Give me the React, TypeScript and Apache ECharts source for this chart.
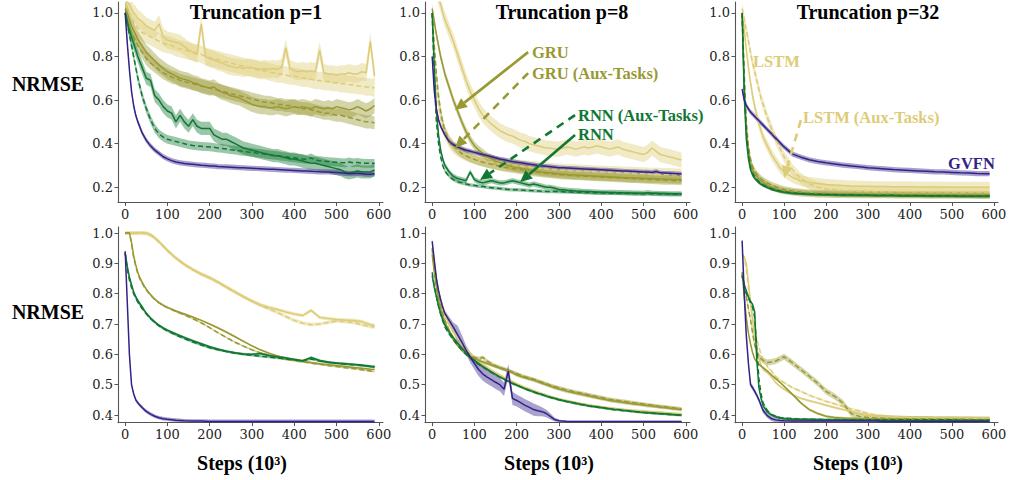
import { useEffect, useRef } from "react";
import * as echarts from "echarts";

// Training steps (in thousands) at which each curve is sampled
const STEPS_FINE = [0, 5, 10, 15, 20, 25, 30, 40, 50, 60, 70, 80, 90, 100, 110, 120, 130, 140, 150, 160, 170, 180, 190, 200, 210, 220, 230, 240, 250, 260, 270, 280, 290, 300, 310, 320, 330, 340, 350, 360, 370, 380, 390, 400, 410, 420, 430, 440, 450, 460, 470, 480, 490, 500, 510, 520, 530, 540, 550, 560, 570, 580, 590];
const STEPS_COARSE = [0, 5, 10, 15, 20, 25, 30, 35, 40, 45, 50, 60, 70, 80, 90, 100, 120, 140, 160, 180, 200, 220, 240, 260, 280, 300, 320, 340, 360, 380, 400, 420, 440, 460, 480, 500, 520, 540, 560, 580, 590];

const X_TICKS = [0, 100, 200, 300, 400, 500, 600];
const Y_TICKS_TOP = [0.2, 0.4, 0.6, 0.8, 1.0];
const Y_TICKS_BOTTOM = [0.4, 0.5, 0.6, 0.7, 0.8, 0.9, 1.0];
const TITLES = ["Truncation p=1", "Truncation p=8", "Truncation p=32"];

const COLORS = { GVFN: "#332288", RNN: "#117733", GRU: "#999933", LSTM: "#DDCC77" };

// ---- Row 1, p=1 ----
const P1_GVFN = [1.0, 0.86, 0.74, 0.64, 0.575, 0.53, 0.5,
  0.45, 0.415, 0.39, 0.37, 0.355, 0.34, 0.33, 0.322, 0.316, 0.312,
  0.309, 0.307, 0.305, 0.303, 0.301, 0.3, 0.298, 0.297, 0.295, 0.294,
  0.293, 0.292, 0.291, 0.29, 0.289, 0.288, 0.287, 0.286, 0.285, 0.284,
  0.283, 0.282, 0.281, 0.28, 0.279, 0.278, 0.277, 0.276, 0.275, 0.274,
  0.273, 0.272, 0.271, 0.27, 0.27, 0.269, 0.268, 0.266, 0.264, 0.262,
  0.263, 0.264, 0.262, 0.26, 0.26, 0.262];
const P1_RNN = [1.0, 0.96, 0.92, 0.89, 0.86, 0.83, 0.8,
  0.75, 0.7, 0.69, 0.62, 0.6, 0.57, 0.55, 0.54, 0.5, 0.53,
  0.5, 0.48, 0.51, 0.48, 0.47, 0.47, 0.47, 0.44, 0.43, 0.42,
  0.42, 0.41, 0.4, 0.39, 0.38, 0.375, 0.37, 0.365, 0.36, 0.355,
  0.35, 0.345, 0.345, 0.34, 0.335, 0.33, 0.33, 0.325, 0.32, 0.315,
  0.31, 0.31, 0.305, 0.3, 0.295, 0.29, 0.285, 0.28, 0.27, 0.265,
  0.27, 0.275, 0.27, 0.27, 0.27, 0.28];
const P1_RNN_AUX = [1.0, 0.95, 0.9, 0.85, 0.8, 0.75, 0.7,
  0.62, 0.56, 0.51, 0.47, 0.445, 0.43, 0.42, 0.415, 0.41, 0.405,
  0.4, 0.395, 0.392, 0.39, 0.388, 0.386, 0.385, 0.383, 0.38, 0.378,
  0.375, 0.372, 0.37, 0.367, 0.365, 0.362, 0.36, 0.357, 0.355, 0.352,
  0.35, 0.347, 0.345, 0.342, 0.34, 0.337, 0.335, 0.332, 0.33, 0.328,
  0.335, 0.325, 0.322, 0.32, 0.318, 0.316, 0.315, 0.313, 0.312, 0.316,
  0.312, 0.314, 0.311, 0.31, 0.31, 0.31];
const P1_GRU = [1.02, 1.0, 0.97, 0.94, 0.92, 0.9, 0.88,
  0.85, 0.82, 0.8, 0.78, 0.76, 0.745, 0.73, 0.72, 0.71, 0.7,
  0.695, 0.69, 0.68, 0.675, 0.665, 0.66, 0.655, 0.66, 0.645, 0.635,
  0.63, 0.62, 0.615, 0.61, 0.6, 0.59, 0.58, 0.575, 0.57, 0.57,
  0.565, 0.565, 0.57, 0.565, 0.56, 0.565, 0.57, 0.565, 0.57, 0.565,
  0.56, 0.57, 0.565, 0.56, 0.565, 0.56, 0.57, 0.565, 0.56, 0.555,
  0.56, 0.57, 0.56, 0.55, 0.56, 0.575];
const P1_GRU_AUX = [1.0, 0.97, 0.94, 0.91, 0.89, 0.87, 0.85,
  0.82, 0.79, 0.77, 0.755, 0.74, 0.725, 0.715, 0.705, 0.7, 0.69,
  0.685, 0.68, 0.675, 0.67, 0.665, 0.66, 0.655, 0.65, 0.645, 0.64,
  0.635, 0.63, 0.625, 0.62, 0.615, 0.61, 0.605, 0.6, 0.595, 0.59,
  0.59, 0.585, 0.58, 0.58, 0.575, 0.575, 0.57, 0.565, 0.56, 0.56,
  0.555, 0.55, 0.545, 0.54, 0.54, 0.535, 0.53, 0.53, 0.525, 0.52,
  0.515, 0.51, 0.505, 0.5, 0.5, 0.495];
const P1_LSTM = [1.06, 1.05, 1.04, 1.02, 1.0, 0.99, 0.975,
  0.96, 0.94, 0.93, 0.92, 0.95, 0.89, 0.875, 0.87, 0.865, 0.86,
  0.845, 0.83, 0.82, 0.81, 0.95, 0.8, 0.79, 0.785, 0.775, 0.77,
  0.76, 0.755, 0.75, 0.75, 0.745, 0.75, 0.75, 0.745, 0.74, 0.745,
  0.74, 0.745, 0.74, 0.75, 0.84, 0.745, 0.735, 0.73, 0.735, 0.73,
  0.735, 0.73, 0.83, 0.725, 0.72, 0.72, 0.715, 0.72, 0.72, 0.725,
  0.72, 0.72, 0.73, 0.725, 0.87, 0.71];
const P1_LSTM_AUX = [1.04, 1.02, 1.0, 0.98, 0.96, 0.945, 0.93,
  0.91, 0.9, 0.89, 0.88, 0.87, 0.86, 0.855, 0.85, 0.84, 0.835,
  0.83, 0.825, 0.82, 0.815, 0.81, 0.8, 0.795, 0.79, 0.785, 0.78,
  0.775, 0.77, 0.765, 0.76, 0.755, 0.75, 0.745, 0.74, 0.735, 0.735,
  0.73, 0.725, 0.72, 0.72, 0.715, 0.71, 0.71, 0.705, 0.7, 0.7,
  0.695, 0.69, 0.69, 0.685, 0.685, 0.68, 0.68, 0.675, 0.675, 0.67,
  0.67, 0.665, 0.665, 0.66, 0.66, 0.655];

// ---- Row 1, p=8 ----
const P2_GVFN = [0.8, 0.64, 0.56, 0.51, 0.48, 0.46, 0.44,
  0.41, 0.395, 0.385, 0.377, 0.37, 0.365, 0.36, 0.355, 0.35, 0.345,
  0.34, 0.335, 0.33, 0.326, 0.322, 0.318, 0.315, 0.312, 0.309, 0.306,
  0.303, 0.3, 0.298, 0.296, 0.294, 0.292, 0.29, 0.289, 0.288, 0.287,
  0.286, 0.285, 0.284, 0.283, 0.282, 0.281, 0.28, 0.279, 0.278, 0.277,
  0.276, 0.275, 0.274, 0.273, 0.272, 0.271, 0.27, 0.27, 0.268, 0.272,
  0.266, 0.265, 0.264, 0.263, 0.262, 0.261];
const P2_RNN = [1.0, 0.75, 0.55, 0.44, 0.37, 0.33, 0.3,
  0.27, 0.25, 0.24, 0.235, 0.23, 0.27, 0.235, 0.225, 0.22, 0.225,
  0.23, 0.225, 0.22, 0.22, 0.225, 0.23, 0.225, 0.22, 0.215, 0.21,
  0.215, 0.21, 0.205, 0.2, 0.2, 0.195, 0.19, 0.188, 0.186, 0.185,
  0.183, 0.182, 0.18, 0.18, 0.179, 0.178, 0.177, 0.177, 0.176, 0.176,
  0.175, 0.175, 0.174, 0.174, 0.173, 0.173, 0.172, 0.175, 0.172, 0.172,
  0.171, 0.171, 0.17, 0.17, 0.17, 0.17];
const P2_RNN_AUX = [1.0, 0.7, 0.5, 0.4, 0.34, 0.3, 0.275,
  0.25, 0.235, 0.225, 0.22, 0.215, 0.21, 0.208, 0.205, 0.203, 0.2,
  0.198, 0.196, 0.194, 0.192, 0.19, 0.189, 0.188, 0.187, 0.186, 0.185,
  0.184, 0.183, 0.182, 0.181, 0.18, 0.18, 0.179, 0.179, 0.178, 0.178,
  0.177, 0.177, 0.176, 0.176, 0.175, 0.175, 0.174, 0.174, 0.173, 0.173,
  0.172, 0.172, 0.172, 0.171, 0.171, 0.171, 0.17, 0.17, 0.17, 0.17,
  0.169, 0.169, 0.169, 0.168, 0.168, 0.168];
const P2_GRU = [1.02, 0.96, 0.9, 0.85, 0.8, 0.76, 0.72,
  0.66, 0.6, 0.55, 0.5, 0.455, 0.42, 0.39, 0.37, 0.355, 0.34,
  0.33, 0.32, 0.313, 0.306, 0.3, 0.295, 0.29, 0.287, 0.284, 0.28,
  0.277, 0.274, 0.27, 0.268, 0.266, 0.264, 0.262, 0.26, 0.258, 0.257,
  0.256, 0.255, 0.254, 0.253, 0.252, 0.251, 0.25, 0.249, 0.248, 0.247,
  0.246, 0.245, 0.244, 0.243, 0.242, 0.242, 0.241, 0.24, 0.24, 0.239,
  0.238, 0.238, 0.237, 0.236, 0.236, 0.235];
const P2_GRU_AUX = [1.0, 0.85, 0.72, 0.62, 0.55, 0.5, 0.46,
  0.415, 0.39, 0.37, 0.355, 0.345, 0.335, 0.328, 0.32, 0.315, 0.31,
  0.305, 0.3, 0.296, 0.292, 0.289, 0.286, 0.283, 0.28, 0.277, 0.274,
  0.271, 0.268, 0.266, 0.264, 0.262, 0.26, 0.258, 0.256, 0.255, 0.254,
  0.253, 0.252, 0.251, 0.25, 0.249, 0.248, 0.247, 0.246, 0.245, 0.244,
  0.243, 0.242, 0.241, 0.24, 0.239, 0.238, 0.237, 0.236, 0.235, 0.234,
  0.233, 0.232, 0.232, 0.231, 0.23, 0.23];
const P2_LSTM = [1.15, 1.12, 1.1, 1.07, 1.04, 1.0, 0.97,
  0.92, 0.87, 0.81, 0.75, 0.69, 0.64, 0.6, 0.56, 0.53, 0.51,
  0.49, 0.475, 0.46, 0.45, 0.44, 0.435, 0.425, 0.415, 0.41, 0.4,
  0.395, 0.39, 0.385, 0.38, 0.38, 0.375, 0.375, 0.38, 0.385, 0.38,
  0.375, 0.38, 0.385, 0.38, 0.385, 0.39, 0.385, 0.38, 0.375, 0.38,
  0.385, 0.375, 0.37, 0.365, 0.36, 0.355, 0.35, 0.36, 0.38, 0.365,
  0.35, 0.345, 0.34, 0.335, 0.33, 0.325];
const P2_LSTM_AUX = [1.0, 0.82, 0.68, 0.58, 0.52, 0.48, 0.45,
  0.41, 0.385, 0.37, 0.36, 0.35, 0.342, 0.335, 0.33, 0.325, 0.32,
  0.316, 0.312, 0.308, 0.305, 0.302, 0.3, 0.298, 0.296, 0.294, 0.292,
  0.29, 0.288, 0.286, 0.284, 0.282, 0.28, 0.279, 0.278, 0.277, 0.276,
  0.275, 0.274, 0.273, 0.272, 0.271, 0.27, 0.27, 0.269, 0.268, 0.267,
  0.266, 0.265, 0.265, 0.264, 0.263, 0.262, 0.262, 0.261, 0.26, 0.26,
  0.259, 0.258, 0.258, 0.257, 0.256, 0.256];

// ---- Row 1, p=32 ----
const P3_GVFN = [0.65, 0.6, 0.575, 0.56, 0.545, 0.535, 0.525, 0.515, 0.505, 0.495, 0.485,
  0.465, 0.445, 0.425, 0.405, 0.385,
  0.352, 0.338, 0.326, 0.318, 0.312, 0.307, 0.302, 0.298, 0.294, 0.29,
  0.287, 0.284, 0.281, 0.279, 0.277, 0.275, 0.273, 0.271, 0.27, 0.268,
  0.266, 0.265, 0.263, 0.262, 0.262];
const P3_RNN = [1.0, 0.62, 0.42, 0.33, 0.28, 0.255, 0.24, 0.23, 0.22, 0.213, 0.207,
  0.198, 0.19, 0.185, 0.18, 0.177,
  0.172, 0.17, 0.168, 0.167, 0.166, 0.165, 0.164, 0.164, 0.163, 0.163,
  0.162, 0.162, 0.162, 0.161, 0.161, 0.161, 0.16, 0.16, 0.16, 0.16,
  0.159, 0.159, 0.159, 0.159, 0.159];
const P3_RNN_AUX = [1.0, 0.66, 0.45, 0.35, 0.29, 0.265, 0.248, 0.236, 0.226, 0.218, 0.212,
  0.202, 0.194, 0.188, 0.183, 0.179,
  0.174, 0.171, 0.169, 0.168, 0.167, 0.166, 0.165, 0.165, 0.164, 0.164,
  0.163, 0.163, 0.163, 0.162, 0.162, 0.162, 0.161, 0.161, 0.161, 0.161,
  0.16, 0.16, 0.16, 0.16, 0.16];
const P3_GRU = [1.0, 0.68, 0.47, 0.37, 0.31, 0.28, 0.26, 0.248, 0.238, 0.23, 0.222,
  0.21, 0.2, 0.193, 0.187, 0.183,
  0.177, 0.173, 0.17, 0.168, 0.167, 0.166, 0.166, 0.165, 0.165, 0.164,
  0.164, 0.164, 0.163, 0.163, 0.163, 0.163, 0.162, 0.162, 0.162, 0.162,
  0.162, 0.162, 0.161, 0.161, 0.161];
const P3_GRU_AUX = [1.0, 0.72, 0.5, 0.39, 0.33, 0.295, 0.275, 0.26, 0.25, 0.24, 0.232,
  0.22, 0.21, 0.202, 0.196, 0.19,
  0.183, 0.178, 0.175, 0.173, 0.172, 0.171, 0.17, 0.17, 0.169, 0.169,
  0.168, 0.168, 0.168, 0.167, 0.167, 0.167, 0.167, 0.166, 0.166, 0.166,
  0.166, 0.166, 0.165, 0.165, 0.165];
const P3_LSTM = [1.0, 0.92, 0.83, 0.75, 0.68, 0.62, 0.57, 0.53, 0.49, 0.46, 0.43,
  0.39, 0.35, 0.32, 0.29, 0.27,
  0.245, 0.23, 0.222, 0.217, 0.213, 0.21, 0.208, 0.206, 0.205, 0.204,
  0.203, 0.203, 0.202, 0.202, 0.202, 0.201, 0.201, 0.201, 0.2, 0.2,
  0.2, 0.2, 0.2, 0.2, 0.2];
const P3_LSTM_AUX = [1.02, 0.97, 0.92, 0.87, 0.82, 0.77, 0.73, 0.69, 0.65, 0.61, 0.58,
  0.52, 0.47, 0.42, 0.38, 0.34,
  0.28, 0.24, 0.215, 0.2, 0.192, 0.188, 0.185, 0.183, 0.182, 0.181,
  0.181, 0.18, 0.18, 0.18, 0.18, 0.179, 0.179, 0.179, 0.179, 0.178,
  0.178, 0.178, 0.178, 0.178, 0.178];

// ---- Row 2, p=1 ----
const P4_GVFN = [0.94, 0.77, 0.6, 0.5, 0.47, 0.45, 0.44, 0.432, 0.425, 0.418, 0.412,
  0.403, 0.396, 0.391, 0.388, 0.386,
  0.383, 0.381, 0.38, 0.38, 0.379, 0.379, 0.379, 0.379, 0.379, 0.379,
  0.379, 0.379, 0.379, 0.379, 0.379, 0.379, 0.379, 0.379, 0.379, 0.379,
  0.379, 0.379, 0.379, 0.379, 0.379];
const P4_RNN = [0.935, 0.89, 0.855, 0.83, 0.806, 0.79, 0.778, 0.767, 0.757, 0.746, 0.736,
  0.72, 0.707, 0.696, 0.687, 0.68,
  0.667, 0.656, 0.645, 0.635, 0.625, 0.617, 0.61, 0.605, 0.601, 0.6,
  0.603, 0.596, 0.592, 0.588, 0.583, 0.578, 0.59, 0.58, 0.574, 0.571,
  0.569, 0.567, 0.564, 0.56, 0.558];
const P4_RNN_AUX = [0.935, 0.88, 0.845, 0.82, 0.8, 0.785, 0.772, 0.761, 0.751, 0.742, 0.733,
  0.718, 0.705, 0.694, 0.685, 0.677,
  0.664, 0.652, 0.641, 0.631, 0.622, 0.615, 0.609, 0.604, 0.6, 0.597,
  0.594, 0.591, 0.588, 0.585, 0.582, 0.579, 0.585, 0.578, 0.574, 0.571,
  0.568, 0.566, 0.563, 0.561, 0.56];
const P4_GRU = [1.0, 1.0, 1.0, 0.97, 0.925, 0.895, 0.87, 0.852, 0.838, 0.826, 0.815,
  0.797, 0.782, 0.771, 0.762, 0.755,
  0.743, 0.733, 0.723, 0.712, 0.7, 0.687, 0.673, 0.658, 0.643, 0.628,
  0.615, 0.604, 0.595, 0.588, 0.582, 0.577, 0.573, 0.569, 0.566, 0.563,
  0.56, 0.557, 0.554, 0.551, 0.55];
const P4_GRU_AUX = [1.0, 1.0, 1.0, 0.965, 0.92, 0.89, 0.865, 0.848, 0.835, 0.823, 0.812,
  0.795, 0.781, 0.77, 0.761, 0.754,
  0.741, 0.73, 0.718, 0.704, 0.688, 0.671, 0.655, 0.64, 0.627, 0.615,
  0.605, 0.597, 0.59, 0.584, 0.579, 0.575, 0.571, 0.567, 0.563, 0.56,
  0.556, 0.553, 0.549, 0.545, 0.543];
const P4_LSTM = [1.0, 1.0, 1.0, 1.0, 1.0, 1.0, 1.001, 1.001, 1.001, 1.0, 1.0,
  0.995, 0.985, 0.972, 0.958, 0.943,
  0.918, 0.897, 0.88, 0.865, 0.853, 0.838, 0.822, 0.806, 0.79, 0.775,
  0.763, 0.755, 0.748, 0.74, 0.733, 0.728, 0.745, 0.722, 0.718, 0.715,
  0.713, 0.712, 0.708, 0.698, 0.695];
const P4_LSTM_AUX = [1.0, 1.0, 1.0, 1.0, 1.0, 1.0, 1.0, 1.0, 1.0, 0.999, 0.998,
  0.993, 0.983, 0.97, 0.956, 0.942,
  0.917, 0.896, 0.879, 0.864, 0.852, 0.837, 0.821, 0.805, 0.79, 0.776,
  0.762, 0.75, 0.738, 0.725, 0.712, 0.703, 0.698, 0.7, 0.705, 0.71,
  0.708, 0.705, 0.698, 0.692, 0.69];

// ---- Row 2, p=8 ----
const P5_GVFN = [0.973, 0.91, 0.85, 0.81, 0.78, 0.755, 0.735,
  0.712, 0.69, 0.665, 0.64, 0.615, 0.59, 0.57, 0.55, 0.535, 0.525,
  0.517, 0.508, 0.5, 0.485, 0.545, 0.455, 0.448, 0.44, 0.432, 0.425,
  0.418, 0.414, 0.411, 0.405, 0.395, 0.385, 0.381, 0.38, 0.379, 0.379,
  0.379, 0.379, 0.379, 0.379, 0.379, 0.379, 0.379, 0.379, 0.379, 0.379,
  0.379, 0.379, 0.379, 0.379, 0.379, 0.379, 0.379, 0.379, 0.379, 0.379,
  0.379, 0.379, 0.379, 0.379, 0.379, 0.379];
const P5_GVFN_SD = [0.01, 0.01, 0.01, 0.01, 0.01, 0.01, 0.01,
  0.012, 0.015, 0.03, 0.025, 0.015, 0.018, 0.02, 0.022, 0.022, 0.022,
  0.022, 0.022, 0.022, 0.022, 0.022, 0.022, 0.02, 0.02, 0.02, 0.02,
  0.02, 0.018, 0.015, 0.012, 0.01, 0.006, 0.004, 0.002, 0.002, 0.002,
  0.002, 0.002, 0.002, 0.002, 0.002, 0.002, 0.002, 0.002, 0.002, 0.002,
  0.002, 0.002, 0.002, 0.002, 0.002, 0.002, 0.002, 0.002, 0.002, 0.002,
  0.002, 0.002, 0.002, 0.002, 0.002, 0.002];
const P5_RNN = [0.86, 0.82, 0.79, 0.76, 0.735, 0.715, 0.697,
  0.675, 0.655, 0.637, 0.62, 0.605, 0.592, 0.58, 0.57, 0.56, 0.551,
  0.542, 0.534, 0.526, 0.519, 0.512, 0.505, 0.499, 0.493, 0.487, 0.482,
  0.477, 0.472, 0.468, 0.463, 0.459, 0.455, 0.451, 0.448, 0.445, 0.442,
  0.439, 0.436, 0.434, 0.431, 0.429, 0.427, 0.425, 0.423, 0.421, 0.419,
  0.418, 0.416, 0.415, 0.413, 0.412, 0.41, 0.409, 0.408, 0.407, 0.406,
  0.405, 0.404, 0.403, 0.402, 0.401, 0.4];
const P5_RNN_AUX = [0.87, 0.825, 0.79, 0.758, 0.732, 0.71, 0.69,
  0.668, 0.648, 0.63, 0.614, 0.6, 0.588, 0.577, 0.567, 0.558, 0.549,
  0.541, 0.533, 0.525, 0.518, 0.511, 0.504, 0.498, 0.492, 0.486, 0.481,
  0.476, 0.471, 0.467, 0.462, 0.458, 0.454, 0.45, 0.447, 0.444, 0.441,
  0.438, 0.435, 0.433, 0.43, 0.428, 0.426, 0.424, 0.422, 0.42, 0.418,
  0.417, 0.415, 0.414, 0.412, 0.411, 0.41, 0.408, 0.407, 0.406, 0.405,
  0.404, 0.403, 0.402, 0.401, 0.4, 0.399];
const P5_GRU = [0.93, 0.87, 0.82, 0.78, 0.75, 0.725, 0.705,
  0.675, 0.65, 0.63, 0.615, 0.603, 0.594, 0.587, 0.58, 0.575, 0.57,
  0.565, 0.56, 0.555, 0.55, 0.545, 0.54, 0.532, 0.527, 0.523, 0.519,
  0.515, 0.51, 0.505, 0.5, 0.495, 0.49, 0.486, 0.482, 0.478, 0.475,
  0.472, 0.469, 0.466, 0.463, 0.46, 0.457, 0.454, 0.451, 0.448, 0.446,
  0.444, 0.442, 0.44, 0.438, 0.436, 0.435, 0.433, 0.431, 0.43, 0.428,
  0.426, 0.425, 0.423, 0.421, 0.42, 0.418];
const P5_GRU_AUX = [0.95, 0.88, 0.83, 0.79, 0.76, 0.735, 0.712,
  0.68, 0.655, 0.635, 0.62, 0.607, 0.597, 0.59, 0.586, 0.59, 0.578,
  0.57, 0.562, 0.557, 0.552, 0.548, 0.542, 0.537, 0.531, 0.526, 0.522,
  0.518, 0.513, 0.508, 0.503, 0.498, 0.494, 0.49, 0.486, 0.482, 0.479,
  0.476, 0.473, 0.47, 0.467, 0.464, 0.461, 0.458, 0.455, 0.452, 0.45,
  0.448, 0.446, 0.444, 0.442, 0.44, 0.438, 0.436, 0.434, 0.432, 0.43,
  0.428, 0.427, 0.425, 0.424, 0.422, 0.42];
const P5_LSTM = [0.95, 0.9, 0.85, 0.81, 0.78, 0.755, 0.73,
  0.7, 0.675, 0.655, 0.636, 0.62, 0.605, 0.59, 0.578, 0.567, 0.557,
  0.548, 0.54, 0.532, 0.524, 0.517, 0.51, 0.503, 0.497, 0.491, 0.486,
  0.48, 0.475, 0.47, 0.466, 0.461, 0.457, 0.453, 0.45, 0.447, 0.444,
  0.441, 0.438, 0.436, 0.433, 0.431, 0.429, 0.427, 0.425, 0.423, 0.422,
  0.42, 0.419, 0.417, 0.416, 0.415, 0.414, 0.413, 0.412, 0.411, 0.41,
  0.409, 0.408, 0.407, 0.406, 0.405, 0.404];
const P5_LSTM_AUX = [0.94, 0.89, 0.845, 0.805, 0.775, 0.75, 0.727,
  0.697, 0.672, 0.652, 0.633, 0.617, 0.602, 0.588, 0.576, 0.565, 0.555,
  0.546, 0.538, 0.53, 0.522, 0.515, 0.508, 0.501, 0.495, 0.489, 0.484,
  0.478, 0.473, 0.468, 0.464, 0.459, 0.455, 0.451, 0.448, 0.445, 0.442,
  0.439, 0.436, 0.434, 0.431, 0.429, 0.427, 0.425, 0.423, 0.421, 0.42,
  0.418, 0.417, 0.415, 0.414, 0.413, 0.412, 0.411, 0.41, 0.409, 0.408,
  0.407, 0.406, 0.405, 0.404, 0.403, 0.402];

// ---- Row 2, p=32 ----
const P6_GVFN = [0.975, 0.8, 0.66, 0.57, 0.5, 0.49, 0.478, 0.465, 0.45, 0.432, 0.415,
  0.398, 0.388, 0.384, 0.382, 0.381,
  0.38, 0.38, 0.38, 0.38, 0.38, 0.38, 0.38, 0.38, 0.38, 0.38,
  0.38, 0.379, 0.379, 0.379, 0.379, 0.379, 0.379, 0.379, 0.379, 0.379,
  0.379, 0.379, 0.379, 0.379, 0.379];
const P6_RNN = [0.86, 0.83, 0.81, 0.79, 0.775, 0.765, 0.74, 0.58, 0.49, 0.455, 0.43,
  0.41, 0.4, 0.394, 0.39, 0.388,
  0.386, 0.385, 0.385, 0.384, 0.384, 0.384, 0.383, 0.383, 0.383, 0.383,
  0.383, 0.382, 0.382, 0.382, 0.382, 0.382, 0.382, 0.382, 0.382, 0.382,
  0.382, 0.382, 0.382, 0.382, 0.382];
const P6_RNN_AUX = [0.86, 0.82, 0.8, 0.785, 0.77, 0.755, 0.72, 0.62, 0.52, 0.47, 0.44,
  0.415, 0.402, 0.396, 0.392, 0.39,
  0.388, 0.387, 0.386, 0.386, 0.385, 0.385, 0.385, 0.384, 0.384, 0.384,
  0.384, 0.384, 0.384, 0.384, 0.384, 0.384, 0.384, 0.384, 0.384, 0.384,
  0.383, 0.383, 0.383, 0.383, 0.383];
const P6_GRU = [0.87, 0.79, 0.72, 0.67, 0.635, 0.605, 0.585, 0.575, 0.568, 0.562, 0.556,
  0.545, 0.532, 0.52, 0.508, 0.495,
  0.468, 0.44, 0.418, 0.405, 0.396, 0.392, 0.39, 0.389, 0.388, 0.387,
  0.387, 0.386, 0.386, 0.386, 0.385, 0.385, 0.385, 0.385, 0.385, 0.385,
  0.385, 0.384, 0.384, 0.384, 0.384];
const P6_GRU_AUX = [0.87, 0.83, 0.79, 0.75, 0.715, 0.67, 0.63, 0.61, 0.594, 0.586, 0.58,
  0.573, 0.575, 0.578, 0.585, 0.592,
  0.572, 0.55, 0.528, 0.505, 0.478, 0.462, 0.44, 0.405, 0.395, 0.392,
  0.39, 0.389, 0.388, 0.388, 0.387, 0.387, 0.387, 0.386, 0.386, 0.386,
  0.386, 0.386, 0.385, 0.385, 0.385];
const P6_LSTM = [0.93, 0.92, 0.9, 0.84, 0.77, 0.71, 0.65, 0.61, 0.584, 0.565, 0.55,
  0.54, 0.525, 0.507, 0.495, 0.485,
  0.467, 0.455, 0.447, 0.44, 0.432, 0.425, 0.418, 0.412, 0.406, 0.4,
  0.397, 0.395, 0.394, 0.393, 0.392, 0.391, 0.391, 0.39, 0.39, 0.39,
  0.389, 0.389, 0.389, 0.389, 0.389];
const P6_LSTM_AUX = [0.93, 0.92, 0.88, 0.82, 0.77, 0.72, 0.68, 0.65, 0.625, 0.6, 0.585,
  0.56, 0.545, 0.527, 0.515, 0.507,
  0.49, 0.478, 0.465, 0.455, 0.445, 0.437, 0.428, 0.42, 0.413, 0.405,
  0.4, 0.397, 0.395, 0.394, 0.393, 0.392, 0.392, 0.391, 0.391, 0.391,
  0.39, 0.39, 0.39, 0.39, 0.39];

type Curve = { color: string; dashed: boolean; mean: number[]; sd: number | number[] };
type Panel = { steps: number[]; yMin: number; yMax: number; yTicks: number[]; curves: Curve[] };

const curves = (
  lstm: number[], lstmAux: number[], gru: number[], gruAux: number[],
  rnn: number[], rnnAux: number[], gvfn: number[],
  sd: [number, number, number, number, number, number, number | number[]]
): Curve[] => [
  { color: COLORS.LSTM, dashed: true, mean: lstmAux, sd: sd[1] },
  { color: COLORS.LSTM, dashed: false, mean: lstm, sd: sd[0] },
  { color: COLORS.GRU, dashed: true, mean: gruAux, sd: sd[3] },
  { color: COLORS.GRU, dashed: false, mean: gru, sd: sd[2] },
  { color: COLORS.RNN, dashed: true, mean: rnnAux, sd: sd[5] },
  { color: COLORS.RNN, dashed: false, mean: rnn, sd: sd[4] },
  { color: COLORS.GVFN, dashed: false, mean: gvfn, sd: sd[6] },
];

const PANELS: Panel[] = [
  { steps: STEPS_FINE, yMin: 0.13, yMax: 1.05, yTicks: Y_TICKS_TOP,
    curves: curves(P1_LSTM, P1_LSTM_AUX, P1_GRU, P1_GRU_AUX, P1_RNN, P1_RNN_AUX, P1_GVFN, [0.04, 0.04, 0.035, 0.03, 0.03, 0.02, 0.012]) },
  { steps: STEPS_FINE, yMin: 0.13, yMax: 1.05, yTicks: Y_TICKS_TOP,
    curves: curves(P2_LSTM, P2_LSTM_AUX, P2_GRU, P2_GRU_AUX, P2_RNN, P2_RNN_AUX, P2_GVFN, [0.035, 0.03, 0.02, 0.02, 0.012, 0.008, 0.01]) },
  { steps: STEPS_COARSE, yMin: 0.13, yMax: 1.05, yTicks: Y_TICKS_TOP,
    curves: curves(P3_LSTM, P3_LSTM_AUX, P3_GRU, P3_GRU_AUX, P3_RNN, P3_RNN_AUX, P3_GVFN, [0.025, 0.025, 0.015, 0.015, 0.006, 0.006, 0.012]) },
  { steps: STEPS_COARSE, yMin: 0.375, yMax: 1.02, yTicks: Y_TICKS_BOTTOM,
    curves: curves(P4_LSTM, P4_LSTM_AUX, P4_GRU, P4_GRU_AUX, P4_RNN, P4_RNN_AUX, P4_GVFN, [0.006, 0.006, 0.003, 0.003, 0.004, 0.004, 0.006]) },
  { steps: STEPS_FINE, yMin: 0.375, yMax: 1.02, yTicks: Y_TICKS_BOTTOM,
    curves: curves(P5_LSTM, P5_LSTM_AUX, P5_GRU, P5_GRU_AUX, P5_RNN, P5_RNN_AUX, P5_GVFN, [0.004, 0.004, 0.006, 0.006, 0.004, 0.004, P5_GVFN_SD]) },
  { steps: STEPS_COARSE, yMin: 0.375, yMax: 1.02, yTicks: Y_TICKS_BOTTOM,
    curves: curves(P6_LSTM, P6_LSTM_AUX, P6_GRU, P6_GRU_AUX, P6_RNN, P6_RNN_AUX, P6_GVFN, [0.004, 0.004, 0.004, 0.01, 0.003, 0.003, 0.008]) },
];

// Annotations, in data coordinates of the panel they sit in
const LABELS = [
  { panel: 1, at: [236, 0.816], text: "GRU", color: COLORS.GRU },
  { panel: 1, at: [236, 0.72], text: "GRU (Aux-Tasks)", color: COLORS.GRU },
  { panel: 1, at: [345, 0.527], text: "RNN (Aux-Tasks)", color: COLORS.RNN },
  { panel: 1, at: [345, 0.44], text: "RNN", color: COLORS.RNN },
  { panel: 2, at: [26, 0.775], text: "LSTM", color: COLORS.LSTM },
  { panel: 2, at: [145, 0.518], text: "LSTM (Aux-Tasks)", color: COLORS.LSTM },
  { panel: 2, at: [491, 0.311], text: "GVFN", color: COLORS.GVFN },
];
const ARROWS = [
  { panel: 1, from: [227, 0.82], to: [54, 0.554], color: COLORS.GRU, dashed: false },
  { panel: 1, from: [227, 0.724], to: [54, 0.38], color: COLORS.GRU, dashed: true },
  { panel: 1, from: [338, 0.531], to: [113, 0.233], color: COLORS.RNN, dashed: true },
  { panel: 1, from: [338, 0.44], to: [208, 0.224], color: COLORS.RNN, dashed: false },
  { panel: 2, from: [140, 0.508], to: [100, 0.242], color: COLORS.LSTM, dashed: true },
];

const GRID_LEFT = [118, 425, 735];
const GRID_WIDTH = [265, 265, 263];
const ROW_TOP = [2, 227];
const ROW_HEIGHT = [200.5, 195.6];
const X_MIN = -17;
const X_MAX = 610;

const TICK_FONT = "DejaVu Serif";
const BOLD_FONT = "'Liberation Serif', 'Times New Roman', serif";

export default function App() {
  const ref = useRef<HTMLDivElement>(null);

  useEffect(() => {
    if (!ref.current) return;
    const chart = echarts.init(ref.current, undefined, { renderer: "svg" });

    const grid = PANELS.map((_, i) => ({
      left: GRID_LEFT[i % 3],
      top: ROW_TOP[Math.floor(i / 3)],
      width: GRID_WIDTH[i % 3],
      height: ROW_HEIGHT[Math.floor(i / 3)],
      containLabel: false,
    }));

    const axisCommon = {
      axisLine: { show: true, onZero: false, lineStyle: { color: "#555", width: 1.1 } },
      splitLine: { show: false },
    };

    const xAxis = PANELS.map((_, i) => ({
      ...axisCommon,
      type: "value",
      gridIndex: i,
      min: X_MIN,
      max: X_MAX,
      axisTick: { show: true, length: 3.5, customValues: X_TICKS, lineStyle: { color: "#555" } },
      axisLabel: { customValues: X_TICKS, fontFamily: TICK_FONT, fontSize: 13, color: "#222", margin: 5 },
    }));

    const yAxis = PANELS.map((p, i) => ({
      ...axisCommon,
      type: "value",
      gridIndex: i,
      min: p.yMin,
      max: p.yMax,
      axisTick: { show: true, length: 3.5, customValues: p.yTicks, lineStyle: { color: "#555" } },
      axisLabel: {
        customValues: p.yTicks,
        fontFamily: TICK_FONT,
        fontSize: 13,
        color: "#222",
        margin: 5,
        formatter: (v: number) => v.toFixed(1),
      },
    }));

    const series: any[] = [];
    PANELS.forEach((p, i) => {
      p.curves.forEach((c) => {
        const sdAt = (k: number) => (Array.isArray(c.sd) ? c.sd[k] : c.sd);
        const rows = p.steps.map((s, k) => [s, c.mean[k] - sdAt(k), c.mean[k] + sdAt(k)]);
        // shaded spread band: one polygon built from all rows
        series.push({
          type: "custom",
          xAxisIndex: i,
          yAxisIndex: i,
          silent: true,
          clip: true,
          encode: { x: 0, y: [1, 2] },
          data: rows,
          renderItem: (params: any, api: any) => {
            if (params.dataIndex !== 0) return null;
            const upper = rows.map((r) => api.coord([r[0], r[2]]));
            const lower = rows.map((r) => api.coord([r[0], r[1]])).reverse();
            return {
              type: "polygon",
              shape: { points: upper.concat(lower) },
              style: { fill: c.color, opacity: 0.42 },
            };
          },
        });
        series.push({
          type: "line",
          xAxisIndex: i,
          yAxisIndex: i,
          symbol: "none",
          silent: true,
          emphasis: { disabled: true },
          lineStyle: { color: c.color, width: 1.5, type: c.dashed ? [5, 3] : "solid" },
          data: p.steps.map((s, k) => [s, c.mean[k]]),
        });
      });
    });

    chart.setOption({
      animation: false,
      backgroundColor: "#ffffff",
      grid,
      xAxis,
      yAxis,
      series,
    });

    const toPx = (panel: number, pt: number[]) =>
      chart.convertToPixel({ gridIndex: panel } as any, pt) as number[];

    const graphic: any[] = [];
    const text = (x: number, y: number, t: string, size: number, color: string, align = "center") => ({
      type: "text",
      x,
      y,
      silent: true,
      z: 10,
      style: {
        text: t,
        font: `bold ${size}px ${BOLD_FONT}`,
        fill: color,
        textAlign: align,
        textVerticalAlign: "middle",
      },
    });

    const TITLE_X = [256, 562, 868];
    TITLES.forEach((t, i) => graphic.push(text(TITLE_X[i], 12, t, 20, "#000")));
    graphic.push(text(48, 84, "NRMSE", 20, "#000"));
    graphic.push(text(48, 312, "NRMSE", 20, "#000"));
    [242, 549, 858].forEach((x) => graphic.push(text(x, 463, "Steps (10³)", 20, "#000")));

    LABELS.forEach((l) => {
      const [x, y] = toPx(l.panel, l.at);
      graphic.push(text(x, y, l.text, 16.5, l.color, "left"));
    });

    ARROWS.forEach((a) => {
      const [x1, y1] = toPx(a.panel, a.from);
      const [x2, y2] = toPx(a.panel, a.to);
      const len = Math.hypot(x2 - x1, y2 - y1);
      const dx = (x2 - x1) / len;
      const dy = (y2 - y1) / len;
      const head = 12;
      const half = 5.5;
      const bx = x2 - dx * head;
      const by = y2 - dy * head;
      graphic.push({
        type: "line",
        silent: true,
        z: 10,
        shape: { x1, y1, x2: bx, y2: by },
        style: { stroke: a.color, lineWidth: 2.6, lineDash: a.dashed ? [8, 6] : null },
      });
      graphic.push({
        type: "polygon",
        silent: true,
        z: 10,
        shape: { points: [[x2, y2], [bx - dy * half, by + dx * half], [bx + dy * half, by - dx * half]] },
        style: { fill: a.color },
      });
    });

    chart.setOption({ graphic });

    return () => chart.dispose();
  }, []);

  return (
    <div
      ref={ref}
      style={{ position: "absolute", left: 0, top: 0, width: 1013, height: 480, background: "#fff" }}
    />
  );
}
